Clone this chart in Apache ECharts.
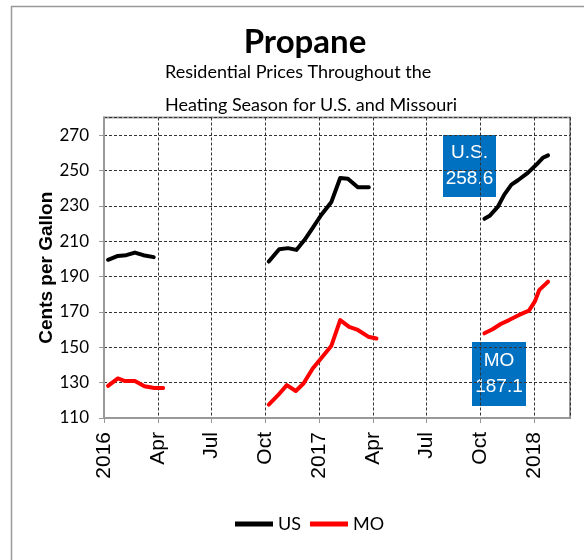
<!DOCTYPE html>
<html>
<head>
<meta charset="utf-8">
<script src="https://cdn.jsdelivr.net/npm/echarts@6/dist/echarts.min.js"></script>
<style>
  html, body { margin: 0; padding: 0; background: #fff; }
  #chart { width: 584px; height: 560px; }
</style>
</head>
<body>
<div id="chart"></div>
<script>
// season dates and prices (cents per gallon)
const usDates1 = ['2016-01-08', '2016-01-25', '2016-02-08', '2016-02-22', '2016-03-07', '2016-03-25'];
const usVals1 = [199.5, 201.7, 202.1, 203.6, 202.1, 201.0];
const usDates2 = ['2016-10-07', '2016-10-25', '2016-11-09', '2016-11-23', '2016-12-07', '2016-12-21',
  '2017-01-05', '2017-01-22', '2017-02-06', '2017-02-18', '2017-03-06', '2017-03-25'];
const usVals2 = [198.5, 205.5, 206.1, 205.1, 210.8, 217.5, 225.0, 232.0, 245.8, 245.3, 240.5, 240.5];
const usDates3 = ['2017-10-08', '2017-10-17', '2017-10-31', '2017-11-11', '2017-11-23', '2017-12-04',
  '2017-12-21', '2018-01-05', '2018-01-16', '2018-01-25'];
const usVals3 = [222.7, 224.4, 229.4, 236.4, 242.0, 244.5, 248.7, 253.4, 257.2, 258.6];

const moDates1 = ['2016-01-08', '2016-01-25', '2016-02-05', '2016-02-22', '2016-03-09', '2016-03-26', '2016-04-10'];
const moVals1 = [128.2, 132.4, 131.0, 131.0, 128.0, 127.0, 127.0];
const moDates2 = ['2016-10-07', '2016-10-23', '2016-11-07', '2016-11-22', '2016-12-05', '2016-12-21',
  '2017-01-05', '2017-01-22', '2017-02-06', '2017-02-20', '2017-03-06', '2017-03-24', '2017-04-07'];
const moVals2 = [117.6, 122.9, 128.6, 125.3, 129.5, 138.0, 144.0, 150.7, 165.4, 161.6, 159.8, 156.0, 155.0];
const moDates3 = ['2017-10-08', '2017-10-22', '2017-11-05', '2017-11-19', '2017-12-06', '2017-12-23',
  '2018-01-02', '2018-01-10', '2018-01-25'];
const moVals3 = [157.9, 160.2, 163.2, 165.4, 168.3, 170.7, 175.8, 182.5, 187.1];

const monthLabels = { 3: 'Apr', 6: 'Jul', 9: 'Oct' };
const calibriLike = 'Lato, "Liberation Sans", sans-serif';
const arialLike = '"Liberation Sans", Arial, sans-serif';

// months since Jan 2016, so quarters are evenly spaced
function toMonths (s) {
  const [y, m, d] = s.split('-').map(Number);
  const days = new Date(y, m, 0).getDate();
  return (y - 2016) * 12 + (m - 1) + (d - 1) / days;
}

function seasons (parts) {
  const out = [];
  parts.forEach(([dates, vals], i) => {
    if (i > 0) out.push('-');
    dates.forEach((d, j) => out.push([toMonths(d), vals[j]]));
  });
  return out;
}

const chart = echarts.init(document.getElementById('chart'));
chart.setOption({
  animation: false,
  title: [{
    text: 'Propane',
    left: 300,
    top: 21,
    textAlign: 'center',
    textStyle: { fontFamily: calibriLike, fontSize: 33, fontWeight: 'bold', color: '#000' }
  }, {
    text: 'Residential Prices Throughout the\nHeating Season for U.S. and Missouri',
    left: 160,
    top: 51,
    textStyle: { fontFamily: calibriLike, fontSize: 18, fontWeight: 'normal', color: '#000', lineHeight: 33 }
  }],
  legend: {
    left: 230,
    top: 510,
    icon: 'rect',
    itemWidth: 38,
    itemHeight: 5,
    itemGap: 9,
    textStyle: { fontFamily: calibriLike, fontSize: 18, color: '#000' },
    data: ['US', 'MO']
  },
  grid: {
    left: 104,
    right: 14,
    top: 117.5,
    bottom: 142,
    show: true,
    borderColor: '#999',
    borderWidth: 2
  },
  xAxis: {
    type: 'value',
    min: 0,
    max: 26,
    interval: 3,
    axisLine: { lineStyle: { color: '#999', width: 2 } },
    axisTick: { show: true, length: 5, lineStyle: { color: '#999' } },
    splitLine: { show: true, lineStyle: { color: '#333', type: [3, 2], width: 1 } },
    axisLabel: {
      rotate: 90,
      margin: 14,
      color: '#000',
      fontFamily: arialLike,
      fontSize: 21,
      showMaxLabel: false,
      formatter: function (v) {
        if (v % 12 === 0) return String(2016 + v / 12);
        return monthLabels[v % 12] || '';
      }
    }
  },
  yAxis: {
    type: 'value',
    min: 110,
    max: 280,
    interval: 20,
    name: 'Cents per Gallon',
    nameLocation: 'middle',
    nameGap: 48,
    nameMoveOverlap: false,
    nameTextStyle: { fontFamily: arialLike, fontSize: 19, fontWeight: 'bold', color: '#000' },
    axisLine: { show: true, lineStyle: { color: '#999', width: 2 } },
    axisTick: { show: true, length: 5, lineStyle: { color: '#999' } },
    splitLine: { show: true, lineStyle: { color: '#333', type: [3, 2], width: 1 } },
    axisLabel: {
      margin: 15,
      color: '#000',
      fontFamily: calibriLike,
      fontSize: 17,
      showMaxLabel: false
    }
  },
  series: [{
    name: 'US',
    type: 'line',
    showSymbol: false,
    color: '#000',
    lineStyle: { width: 4, cap: 'round', join: 'round' },
    data: seasons([[usDates1, usVals1], [usDates2, usVals2], [usDates3, usVals3]])
  }, {
    name: 'MO',
    type: 'line',
    showSymbol: false,
    color: '#ff0000',
    lineStyle: { width: 4, cap: 'round', join: 'round' },
    data: seasons([[moDates1, moVals1], [moDates2, moVals2], [moDates3, moVals3]])
  }],
  graphic: [{
    type: 'rect',
    silent: true,
    shape: { x: 11.5, y: 6.5, width: 700, height: 700 },
    style: { fill: 'none', stroke: '#999', lineWidth: 1.5 }
  }, {
    type: 'group',
    left: 443,
    top: 135,
    children: [{
      type: 'rect',
      shape: { x: 0, y: 0, width: 53, height: 62 },
      style: { fill: '#0070c0' }
    }, {
      type: 'text',
      x: 26.5,
      y: 31,
      style: {
        text: 'U.S.\n258.6',
        fill: '#fff',
        font: '19px ' + arialLike,
        lineHeight: 26,
        align: 'center',
        verticalAlign: 'middle'
      }
    }]
  }, {
    type: 'group',
    left: 472,
    top: 342,
    children: [{
      type: 'rect',
      shape: { x: 0, y: 0, width: 54, height: 64 },
      style: { fill: '#0070c0' }
    }, {
      type: 'text',
      x: 27,
      y: 32,
      style: {
        text: 'MO\n187.1',
        fill: '#fff',
        font: '19px ' + arialLike,
        lineHeight: 26,
        align: 'center',
        verticalAlign: 'middle'
      }
    }]
  }]
});
</script>
</body>
</html>
